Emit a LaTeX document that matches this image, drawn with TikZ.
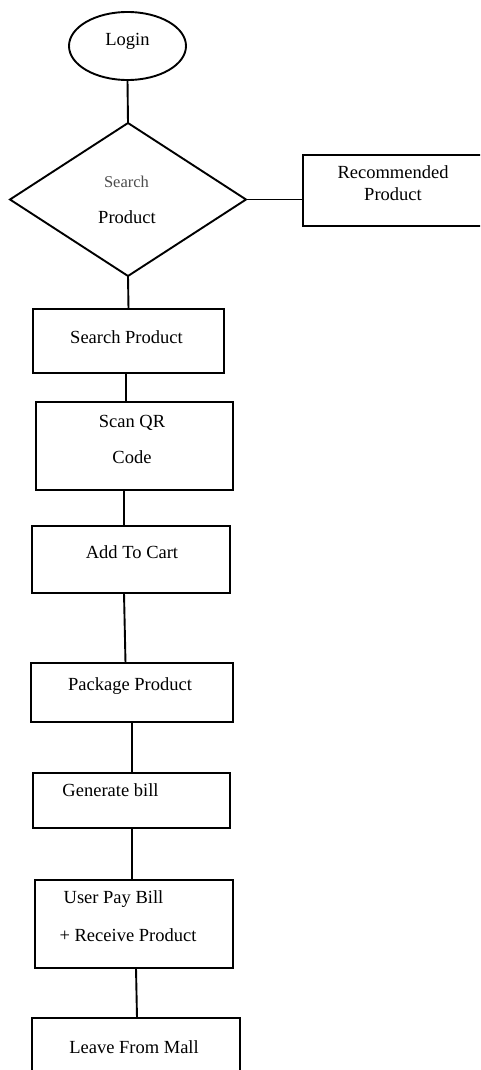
\documentclass[tikz,border=0pt]{standalone}
\usepackage{fontspec}
\setmainfont{Liberation Serif}
\usepackage{tikz}
\usetikzlibrary{shapes.geometric}
\tikzset{>=stealth}
\tikzset{
  box/.style={draw=black,line width=1.9pt,rectangle,inner sep=0pt,outer sep=0pt},
  txt/.style={black,inner sep=0pt,align=center,font=\fontsize{18.5}{22}\selectfont},
  link/.style={line width=1.9pt,black}
}

\begin{document}
\begin{tikzpicture}[x=1pt,y=-1pt]
          \path[use as bounding box,clip] (0,0) rectangle (480,1070);

          % Shapes
          \node[box,ellipse,minimum width=117pt,minimum height=68pt] at (127.5,46) (login) {};
          \node[box,diamond,minimum width=236pt,minimum height=153pt] at (128,199.5) (searchq) {};
          \node[box,minimum width=180pt,minimum height=71pt] at (393,190.5) (rec) {};
          \node[box,minimum width=191pt,minimum height=64pt] at (128.5,341) (searchp) {};
          \node[box,minimum width=197pt,minimum height=88pt] at (134.5,446) (scan) {};
          \node[box,minimum width=198pt,minimum height=67pt] at (131,559.5) (cart) {};
          \node[box,minimum width=202pt,minimum height=59pt] at (132,692.5) (pkg) {};
          \node[box,minimum width=197pt,minimum height=55pt] at (131.5,800.5) (gen) {};
          \node[box,minimum width=198pt,minimum height=88pt] at (134,924) (pay) {};
          \node[box,minimum width=208pt,minimum height=70pt] at (136,1053) (leave) {};

          % Labels
          \node[txt] at (127.5,41) (tlogin) {Login};
          \node[txt,black!70,font=\fontsize{16.5}{20}\selectfont] at (126.5,182) (tsearch) {Search};
          \node[txt] at (127,217) (tprod) {Product};
          \node[txt] at (393,183) (trec) {Recommended\\Product};
          \node[txt] at (126.5,337) (tsearchp) {Search Product};
          \node[txt] at (132,439) (tscan) {Scan QR\\[14pt]Code};
          \node[txt] at (132,552) (tcart) {Add To Cart};
          \node[txt] at (130,686) (tpkg) {Package Product};
          \node[txt] at (110.5,790) (tgen) {Generate bill};
          \node[txt] at (113.5,899) (tpay) {User Pay Bill};
          \node[txt] at (128,935) (trecv) {+ Receive Product};
          \node[txt] at (134,1047) (tleave) {Leave From Mall};

          % Links
          \draw[link] (login.south)--(searchq.north);
          \draw[link] (searchq.east)--(searchq.east -| rec.west);
          \draw[link] (searchq.south)--(searchp.north);
          \draw[link] ([xshift=-2.5pt]searchp.south)--([xshift=-8.5pt]scan.north);
          \draw[link] ([xshift=-10.5pt]scan.south)--([xshift=-7pt]cart.north);
          \draw[link] ([xshift=-7pt]cart.south)--([xshift=-6.5pt]pkg.north);
          \draw[link] (pkg.south)--(pkg.south |- gen.north);
          \draw[link] ([xshift=0.5pt]gen.south)--([xshift=-2pt]pay.north);
          \draw[link] ([xshift=2pt]pay.south)--([xshift=1pt]leave.north);

        \end{tikzpicture}
\end{document}
